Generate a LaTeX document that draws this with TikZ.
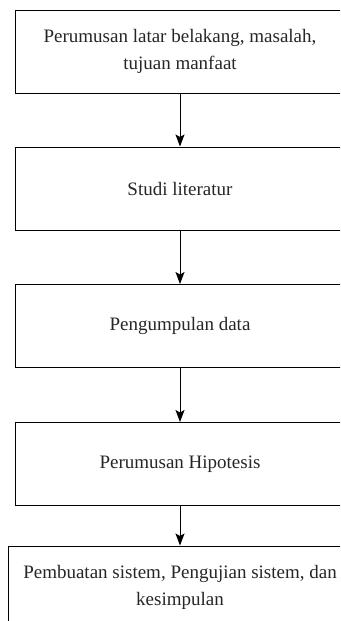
\documentclass[tikz,border=0pt]{standalone}
\usepackage{fontspec}
\setmainfont{Liberation Serif}
\usetikzlibrary{arrows.meta}
\tikzset{
  stepbox/.style={draw=black, line width=1pt, rectangle, minimum height=83pt, inner sep=0pt,
    align=center, font=\fontsize{19pt}{26.5pt}\selectfont, text=black!85},
  flowarrow/.style={draw=black, line width=1pt, -{Stealth[length=12pt,width=9pt,inset=2.5pt]}}
}
\begin{document}
\begin{tikzpicture}[x=1pt,y=1pt]
\useasboundingbox (0,0) rectangle (340,-621);
\clip (0,0) rectangle (340,-621);
\node[stepbox, minimum width=330pt] (b1) at (180,-51.5) {Perumusan latar belakang, masalah,\\tujuan manfaat};
\node[stepbox, minimum width=330pt] (b2) at (180,-188.5) {Studi literatur};
\node[stepbox, minimum width=330pt] (b3) at (180,-326) {Pengumpulan data};
\node[stepbox, minimum width=330pt] (b4) at (180,-464) {Perumusan Hipotesis};
\node[stepbox, minimum width=344pt] (b5) at (180,-587.5) {Pembuatan sistem, Pengujian sistem, dan\\kesimpulan};
\draw[flowarrow] (b1.south) -- (b2.north);
\draw[flowarrow] (b2.south) -- (b3.north);
\draw[flowarrow] (b3.south) -- (b4.north);
\draw[flowarrow] (b4.south) -- (b5.north);
\end{tikzpicture}
\end{document}
